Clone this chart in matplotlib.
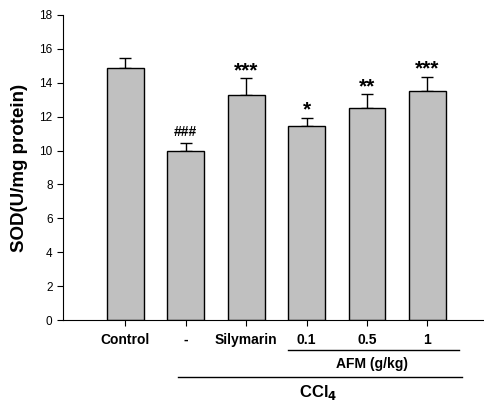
import matplotlib
matplotlib.use("Agg")
import matplotlib.pyplot as plt

plt.rcParams['font.family'] = ['Liberation Sans', 'DejaVu Sans']

groups = ["Control", "-", "Silymarin", "0.1", "0.5", "1"]
sod_mean = [14.86, 9.99, 13.28, 11.43, 12.49, 13.50]
sod_err = [0.63, 0.48, 0.99, 0.51, 0.83, 0.86]
marks = ["", "###", "***", "*", "**", "***"]

fig = plt.figure(figsize=(4.84, 4.12), dpi=100)
ax = fig.add_axes([0.130, 0.2233, 0.868, 0.7403])

x = list(range(len(groups)))
ax.bar(x, sod_mean, width=0.61, color="#c0c0c0", edgecolor="black", linewidth=1.0, zorder=2)
ax.errorbar(x, sod_mean, yerr=[[0] * len(x), sod_err], fmt="none", ecolor="black",
            elinewidth=1.0, capsize=4, capthick=1.0, zorder=1)

for xi, m, e, lab in zip(x, sod_mean, sod_err, marks):
    if lab.startswith("#"):
        ax.text(xi, m + e + 0.2, lab, ha="center", va="bottom", fontsize=10, fontweight="bold")
    elif lab:
        ax.text(xi, m + e - 0.1, lab, ha="center", va="bottom", fontsize=15, fontweight="bold")

ax.set_xlim(-1.03, 5.92)
ax.set_ylim(0, 18)
ax.set_yticks(range(0, 19, 2))
ax.set_xticks(x)
ax.set_xticklabels(groups, fontsize=10, fontweight="bold")
ax.tick_params(axis="y", labelsize=8.5, direction="out", length=4)
ax.tick_params(axis="x", direction="out", length=4, pad=5)
ax.spines["top"].set_visible(False)
ax.spines["right"].set_visible(False)
ax.set_ylabel("SOD(U/mg protein)", fontsize=13.5, fontweight="bold", labelpad=8)

# group annotations below the axis
fig.add_artist(plt.Line2D([288 / 484, 459 / 484], [1 - 350 / 412, 1 - 350 / 412], color="black", lw=1))
fig.text(372 / 484, 1 - 364 / 412, "AFM (g/kg)", ha="center", va="center", fontsize=10, fontweight="bold")
fig.add_artist(plt.Line2D([178 / 484, 462 / 484], [1 - 377 / 412, 1 - 377 / 412], color="black", lw=1))
fig.text(318 / 484, 1 - 392 / 412, r"CCl$_\mathbf{4}$", ha="center", va="center", fontsize=12, fontweight="bold")

fig.savefig("out.png", dpi=100)
